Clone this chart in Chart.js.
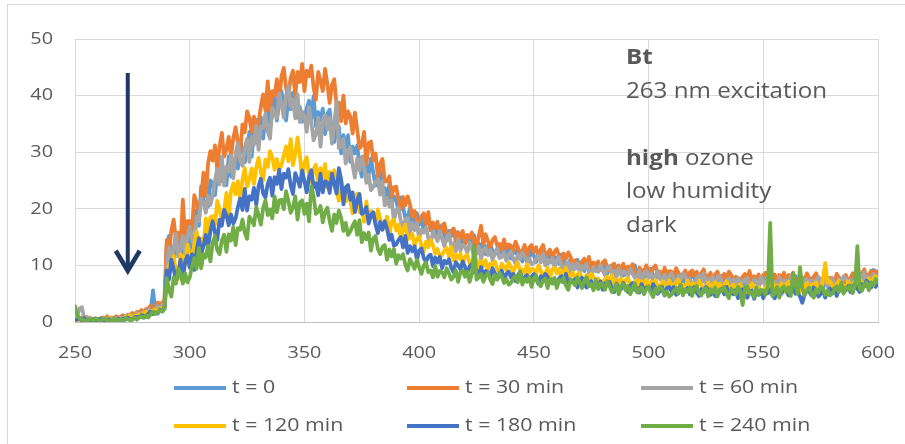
<!DOCTYPE html>
<html>
<head>
<meta charset="utf-8">
<script src="https://cdn.jsdelivr.net/npm/chart.js@4.4.1/dist/chart.umd.min.js"></script>
<style>
  html, body { margin: 0; padding: 0; background: #fff; }
  #wrap { width: 905px; height: 444px; }
</style>
</head>
<body>
<div id="wrap"><canvas id="spectra" width="905" height="444"></canvas></div>
<script>
// emission spectra, 250-600 nm in 1 nm steps
const waveStart = 250;
const waveEnd = 600;

const seriesNames = ["t = 0", "t = 30 min", "t = 60 min", "t = 120 min", "t = 180 min", "t = 240 min"];
const seriesColors = ["#5b9bd5", "#ed7d31", "#a5a5a5", "#ffc000", "#4472c4", "#70ad47"];

const t0 = [
  0.6,0.4,0.8,0.5,0.3,0.4,0.6,0.1,0.5,0.6,
  0.4,0.6,0.2,0.5,0.7,0.3,0.5,0.6,0.3,0.6,
  0.9,0.6,0.4,0.9,0.8,1.2,1.1,0.8,1.2,0.9,
  1.2,1.6,2.0,1.8,5.6,1.9,2.6,2.6,3.1,2.6,
  13.7,15.2,12.0,10.3,13.6,15.0,11.2,15.0,13.0,15.8,
  12.5,16.8,16.9,19.7,17.0,24.0,21.6,21.1,20.4,25.0,
  24.5,22.4,26.3,28.2,24.9,26.3,24.2,29.3,25.7,28.6,
  28.8,27.1,32.0,30.3,28.2,30.0,33.6,29.2,34.1,35.7,
  33.5,36.2,32.4,36.3,38.8,35.0,36.5,40.1,35.6,38.8,
  40.8,37.7,35.6,39.5,37.6,40.5,38.9,36.1,38.0,35.4,
  36.0,37.8,39.1,35.9,39.9,34.5,37.1,35.6,37.7,33.2,
  36.8,37.5,33.5,31.8,34.0,34.5,29.8,33.0,30.8,33.0,
  28.3,31.0,29.8,31.2,27.6,25.7,29.3,27.8,26.0,28.9,
  26.4,24.1,26.1,26.7,23.5,23.7,21.4,24.3,20.9,22.2,
  21.5,19.7,22.0,20.2,18.3,18.6,20.1,16.7,19.0,19.2,
  17.2,18.3,15.9,17.6,18.5,16.2,16.5,17.3,15.3,16.6,
  17.1,15.4,14.4,16.1,15.2,16.4,15.6,14.1,14.9,13.5,
  13.8,14.5,15.1,13.6,15.3,12.8,13.9,13.2,14.1,12.0,
  13.5,13.9,12.4,11.9,12.9,13.2,11.5,12.9,12.1,13.1,
  11.2,12.5,12.2,12.9,11.5,10.7,12.5,12.0,11.3,12.7,
  11.7,10.6,12.0,12.6,11.0,11.4,10.3,12.2,10.5,11.5,
  11.3,10.3,11.9,10.9,9.7,10.1,11.2,9.1,10.7,11.0,
  9.8,10.6,9.0,10.2,10.9,9.3,9.6,10.2,8.9,9.8,
  10.3,9.2,8.5,9.8,9.1,10.2,9.6,8.6,9.2,8.2,
  8.5,9.1,9.6,8.5,10.0,8.1,9.0,8.5,9.2,7.7,
  9.0,9.4,8.1,7.6,8.5,8.8,7.3,8.6,7.9,8.8,
  7.1,8.3,8.0,8.7,7.4,6.7,8.4,7.9,7.3,8.6,
  7.8,6.9,8.1,8.6,7.2,7.6,6.7,8.4,6.9,7.7,
  7.6,6.7,8.2,7.4,6.4,6.8,7.9,6.1,7.5,7.8,
  6.8,7.6,6.1,7.4,8.1,6.6,6.9,7.5,6.3,7.3,
  7.8,6.7,6.0,7.5,6.8,7.9,7.4,6.4,7.1,6.2,
  6.5,7.2,7.7,6.6,8.1,6.3,7.1,6.7,7.4,6.0,
  7.3,7.7,6.4,6.0,7.0,7.4,5.9,7.2,6.7,7.7,
  6.1,7.4,7.2,7.9,6.8,6.2,7.9,7.5,7.1,8.4,
  7.7,6.9,8.1,8.7,7.5,7.9,7.2,9.0,9.2,8.5,
  8.3
];

const t30 = [
  0.9,0.5,0.3,0.8,0.5,0.9,0.7,0.3,0.5,0.2,
  0.3,0.6,0.8,0.5,1.0,0.4,0.8,0.7,1.0,0.5,
  1.0,1.2,0.9,0.9,1.3,1.6,1.2,1.8,1.7,2.1,
  1.6,2.3,2.4,2.9,2.5,2.4,3.4,3.3,3.3,4.0,
  14.5,12.1,16.2,18.1,14.4,15.8,13.4,21.6,14.8,17.8,
  17.8,16.6,22.4,21.1,19.4,21.9,26.4,22.2,28.0,30.2,
  28.5,31.2,26.9,31.0,33.4,29.2,30.5,32.7,29.2,32.5,
  34.4,31.7,30.0,34.9,33.5,37.2,36.1,33.6,36.3,34.1,
  35.4,38.0,40.2,37.4,42.5,37.3,40.8,40.0,42.9,38.8,
  43.4,44.9,41.2,40.1,43.1,44.4,39.9,44.2,42.4,45.6,
  40.8,44.4,43.4,45.3,41.4,39.3,44.2,42.6,40.8,44.7,
  42.0,38.7,41.9,42.9,38.3,38.8,35.5,40.0,35.1,37.2,
  36.3,33.3,37.0,34.0,30.7,31.2,33.6,27.9,31.6,31.9,
  28.6,29.8,25.7,27.9,28.8,24.8,24.9,25.7,22.2,23.8,
  23.9,21.6,19.9,22.1,20.6,22.2,20.8,18.7,19.6,17.6,
  17.8,18.7,19.2,17.3,19.4,16.3,17.6,16.6,17.7,15.0,
  16.9,17.4,15.5,14.7,16.1,16.5,14.1,15.9,14.9,16.1,
  13.8,15.4,14.9,15.8,14.0,13.2,15.3,17.0,13.8,15.5,
  14.2,13.1,14.5,15.0,13.5,13.8,12.8,14.6,12.9,13.7,
  13.5,12.5,14.2,13.2,12.1,12.5,13.6,11.6,13.2,13.6,
  12.4,13.2,11.5,12.8,13.6,11.8,12.2,12.8,11.3,12.4,
  12.9,11.6,10.6,12.1,11.2,12.3,11.5,10.3,10.9,9.8,
  10.0,10.7,11.2,10.1,11.5,9.6,10.5,10.0,10.7,9.2,
  10.5,10.9,9.6,9.1,10.0,10.3,8.7,10.0,9.3,10.3,
  8.6,9.8,9.5,10.2,8.9,7.7,9.6,9.1,8.8,10.0,
  9.2,8.2,9.5,10.0,8.6,8.9,7.9,9.6,8.2,9.0,
  8.9,8.0,9.5,8.7,7.7,8.1,9.1,7.3,8.8,9.1,
  8.1,8.9,7.4,8.6,9.3,7.8,8.1,8.7,7.4,8.4,
  8.9,7.8,7.1,8.5,7.8,8.9,8.3,7.3,8.0,7.0,
  7.3,8.0,8.5,7.4,9.0,7.1,8.1,7.6,8.4,6.9,
  8.3,8.7,7.5,7.0,8.0,8.4,6.9,8.3,7.7,8.7,
  7.1,8.3,8.0,8.7,7.4,6.7,8.4,7.8,7.3,8.6,
  7.7,6.8,8.0,8.6,7.2,7.6,6.6,8.3,6.9,7.8,
  7.7,6.9,8.5,7.7,6.7,7.2,8.3,6.5,7.8,8.6,
  7.6,8.5,7.1,8.5,9.3,7.9,8.3,9.0,7.9,9.0,
  8.8
];

const t60 = [
  1.0,1.1,2.4,2.6,0.7,0.8,0.3,0.7,0.4,0.7,
  0.1,0.5,0.5,0.7,0.3,0.1,0.7,0.6,0.4,0.9,
  0.7,0.5,1.0,1.3,0.9,1.1,0.9,1.6,1.2,1.6,
  1.7,1.6,2.3,2.1,1.9,2.2,2.8,2.3,3.0,3.3,
  10.5,13.2,9.2,13.1,15.6,11.6,13.0,15.2,11.9,15.2,
  16.8,14.6,13.5,18.6,17.8,21.8,21.1,19.3,22.3,20.7,
  22.4,24.9,27.0,24.3,29.2,24.1,27.5,26.6,29.4,25.4,
  29.8,31.6,28.4,27.6,30.8,32.4,28.3,32.7,31.3,34.7,
  30.4,34.5,34.3,36.8,33.7,32.4,37.8,37.0,36.0,40.4,
  38.5,36.1,40.0,41.7,38.0,39.3,36.0,40.2,35.3,37.2,
  36.3,33.6,37.9,35.2,32.1,33.2,36.1,31.0,35.5,36.6,
  34.0,36.1,31.5,34.8,39.0,30.7,31.0,32.3,28.0,30.2,
  30.9,27.7,25.5,28.9,26.8,29.2,27.4,24.6,26.0,23.3,
  23.9,24.8,25.2,22.5,24.9,20.6,21.9,20.4,21.5,17.8,
  19.8,20.2,17.8,16.8,18.1,18.4,15.6,17.5,16.2,17.5,
  14.7,16.4,15.8,16.7,14.8,13.7,16.0,15.2,14.3,16.1,
  14.7,13.4,14.9,15.5,13.5,13.9,12.5,14.7,12.6,13.6,
  13.3,12.2,14.0,12.9,11.6,12.1,13.3,11.0,12.8,13.1,
  11.8,12.7,10.9,12.3,13.0,11.3,11.6,12.3,10.8,11.9,
  12.4,11.2,10.3,11.9,11.1,12.3,11.6,10.5,11.2,10.2,
  10.4,11.2,11.7,10.5,12.1,10.0,11.0,10.5,11.3,9.6,
  11.0,11.4,9.9,9.3,10.3,10.6,8.8,10.2,9.4,10.4,
  8.7,9.9,9.4,10.3,8.8,7.8,9.7,9.0,8.9,10.1,
  9.1,8.3,9.6,9.9,8.5,9.0,7.8,9.5,8.3,8.9,
  8.8,8.1,9.4,8.6,7.8,8.0,9.0,7.2,8.7,9.0,
  7.8,8.6,7.1,8.3,9.0,7.5,7.8,8.4,7.1,8.1,
  8.6,7.5,6.8,8.2,7.5,8.6,8.1,7.0,7.6,6.7,
  7.0,7.7,8.2,7.1,8.6,6.8,7.7,7.2,8.0,6.4,
  7.8,8.2,6.9,6.5,7.4,7.7,6.2,7.5,6.8,7.8,
  6.1,7.4,7.1,7.8,6.6,5.9,7.6,7.2,6.6,8.0,
  7.2,6.3,7.5,8.1,6.7,7.1,6.2,7.9,6.5,7.4,
  7.3,6.5,8.0,7.1,6.2,6.6,7.6,5.8,7.3,7.6,
  6.6,7.4,6.0,7.2,8.0,6.5,6.8,7.4,6.3,7.2,
  7.8,6.8,6.1,7.6,7.0,8.1,7.6,6.7,7.4,6.6,
  7.0,7.7,8.3,7.3,8.8,7.0,8.0,7.6,8.5,7.1,
  8.0
];

const t120 = [
  0.4,0.6,0.2,0.5,0.7,0.2,0.3,0.5,0.2,0.4,
  0.5,0.3,0.1,0.5,0.3,0.7,0.5,0.3,0.5,0.3,
  0.4,0.6,0.9,0.7,1.2,0.8,1.1,1.1,1.4,1.1,
  1.6,1.8,1.5,1.5,2.0,2.2,1.8,2.4,2.3,2.7,
  6.8,10.1,9.7,11.7,8.9,7.6,12.0,11.2,10.1,13.7,
  11.9,10.2,13.8,16.0,13.3,14.7,13.4,18.3,15.6,18.5,
  18.7,17.2,21.4,19.9,18.0,19.6,22.8,18.9,23.1,24.5,
  22.6,24.9,21.6,25.1,27.2,23.9,25.2,27.1,24.4,27.3,
  29.0,26.5,25.0,28.7,27.4,30.2,29.1,26.9,28.8,26.8,
  27.7,29.5,31.0,28.4,32.3,27.7,29.7,32.6,29.5,25.3,
  28.1,29.1,25.9,24.7,27.0,27.8,24.0,27.2,25.5,27.9,
  23.8,26.5,25.4,26.8,23.3,21.4,24.9,23.2,21.3,24.0,
  21.4,19.2,21.7,22.7,19.4,20.0,17.7,21.3,17.8,19.6,
  19.0,17.3,19.9,18.2,16.3,16.9,18.6,15.2,17.7,18.1,
  16.2,17.2,14.6,16.3,17.2,14.6,14.9,15.6,13.4,14.7,
  15.1,13.5,12.4,14.2,13.2,14.5,13.6,12.1,12.9,11.6,
  11.8,12.6,13.1,11.6,13.3,10.9,11.9,11.2,12.1,10.1,
  11.5,11.9,10.4,9.8,10.8,11.1,9.3,10.7,9.9,10.9,
  9.1,10.3,10.0,10.7,9.4,8.7,10.3,9.8,9.2,10.5,
  9.7,8.7,9.9,10.5,9.1,9.3,8.5,10.2,8.7,9.4,
  9.3,8.4,10.0,9.1,8.1,8.5,9.6,7.7,9.3,9.6,
  8.6,9.4,7.7,8.9,9.6,8.0,8.2,8.8,7.4,8.4,
  8.7,7.7,7.0,8.3,7.6,8.5,8.0,7.1,7.7,6.8,
  7.0,7.6,8.0,7.0,8.3,6.6,7.5,7.0,7.7,6.3,
  7.4,7.8,6.6,6.2,7.1,7.4,6.0,7.2,6.6,7.5,
  6.0,7.1,6.8,7.4,6.3,5.7,7.2,6.7,6.2,7.4,
  6.7,5.9,7.0,7.5,6.3,6.6,5.8,7.3,6.0,6.8,
  6.7,6.0,7.3,6.6,5.8,6.1,7.0,5.4,6.7,7.0,
  6.1,6.8,5.5,6.5,7.2,5.8,6.1,6.6,5.4,6.3,
  6.7,5.8,5.1,6.4,5.8,6.8,6.3,5.4,6.1,5.3,
  5.5,6.2,6.7,5.8,7.1,5.6,6.4,6.0,6.8,5.5,
  6.7,7.1,6.0,5.6,6.5,6.8,5.4,6.6,6.1,6.9,
  5.5,6.6,6.4,7.0,5.9,5.3,7.6,10.4,7.0,7.2,
  6.5,5.7,6.8,7.3,6.1,6.5,5.7,7.2,6.0,6.8,
  6.7,6.1,7.6,7.0,6.2,6.7,7.7,6.2,7.7,8.1,
  7.5
];

const t180 = [
  0.3,0.5,0.6,0.3,0.7,0.2,0.4,0.3,0.5,0.1,
  0.4,0.6,0.2,0.1,0.4,0.5,0.1,0.4,0.3,0.6,
  0.2,0.6,0.6,0.8,0.5,0.4,0.9,0.9,0.8,1.2,
  1.1,0.9,1.5,1.8,1.4,1.7,1.5,2.2,1.9,2.3,
  9.1,7.5,11.0,9.4,7.3,8.5,11.0,7.2,10.7,11.7,
  9.6,12.0,9.2,12.6,14.8,12.0,13.4,15.4,13.2,16.0,
  17.8,15.8,14.5,18.1,17.0,19.8,18.9,17.1,19.0,17.4,
  18.3,20.3,21.8,19.8,23.5,19.7,22.2,21.6,23.7,20.7,
  24.0,25.3,22.7,22.0,24.4,25.5,22.3,25.6,24.4,26.9,
  23.5,26.2,25.5,27.0,24.1,22.6,26.3,25.2,23.9,26.8,
  24.9,22.9,25.6,26.8,23.8,24.5,22.4,26.2,22.9,24.9,
  24.6,22.8,26.2,24.4,22.7,27.2,25.2,20.8,23.8,24.2,
  21.6,22.9,19.4,21.5,22.6,19.1,19.4,20.3,17.4,18.9,
  19.4,17.2,15.7,17.7,16.3,17.8,16.5,14.5,15.4,13.5,
  13.7,14.5,15.0,13.2,15.2,12.2,13.4,12.5,13.4,11.0,
  12.6,13.0,11.3,10.6,11.6,11.9,9.9,11.4,10.5,11.5,
  9.5,10.8,10.4,11.1,9.6,8.8,10.6,10.0,9.3,10.7,
  9.7,8.7,9.8,10.3,8.8,9.1,8.1,9.7,8.2,9.0,
  8.8,7.9,9.5,8.6,7.6,8.1,9.1,7.4,8.5,8.9,
  7.9,8.5,7.2,8.2,8.9,7.4,7.9,8.3,7.2,8.0,
  8.5,7.6,6.7,8.1,7.6,8.5,8.0,7.1,7.5,6.8,
  7.0,7.7,8.1,7.0,8.5,6.6,7.5,7.0,7.6,6.1,
  7.4,7.8,6.6,6.1,7.0,7.2,5.8,7.1,6.4,7.2,
  5.7,6.8,6.5,7.1,6.0,5.3,6.8,6.2,5.8,6.9,
  6.2,5.3,6.4,6.9,5.7,6.0,5.2,6.7,5.4,6.1,
  6.0,5.3,6.7,6.0,5.0,5.4,6.2,4.7,6.0,6.2,
  5.4,6.2,4.8,5.9,6.5,5.2,5.5,6.0,4.9,5.8,
  6.2,5.2,4.6,5.8,5.3,6.2,5.7,4.8,5.4,4.6,
  4.8,5.4,5.9,4.9,6.2,4.6,5.4,4.9,5.6,4.2,
  5.4,5.8,4.7,4.3,5.2,5.5,4.1,5.3,4.8,5.6,
  4.2,5.4,5.1,5.8,4.7,4.2,5.7,5.3,5.0,6.1,
  5.5,4.7,5.8,6.3,5.0,5.3,4.5,3.4,4.8,5.5,
  5.4,4.7,6.1,5.4,4.5,4.9,5.8,4.3,5.6,5.9,
  5.1,5.9,4.6,5.8,6.5,5.3,5.6,6.3,5.3,6.2,
  6.7,5.9,5.3,6.7,6.3,7.3,6.9,6.1,6.9,6.2,
  7.0
];

const t240 = [
  2.8,1.3,0.6,0.5,0.3,0.2,0.4,0.5,0.3,0.6,
  0.4,0.1,0.5,0.6,0.2,0.3,0.1,0.6,0.2,0.4,
  0.4,0.2,0.7,0.5,0.3,0.5,0.8,0.4,0.8,1.0,
  0.7,1.2,0.8,1.4,1.8,1.4,1.7,2.1,1.8,2.3,
  7.7,5.7,4.5,7.9,6.8,9.4,8.6,6.8,8.6,7.0,
  7.9,9.8,11.3,9.4,13.1,9.5,12.0,11.4,13.5,10.7,
  14.0,15.2,12.7,12.0,14.4,15.4,12.4,15.5,14.4,16.8,
  13.6,16.6,16.3,18.1,15.8,14.7,18.6,18.0,17.1,20.3,
  18.9,17.2,20.1,21.5,18.9,19.9,18.3,22.2,19.4,21.5,
  21.6,19.9,23.1,21.4,19.3,20.2,22.2,18.1,21.1,21.5,
  19.1,20.9,17.8,24.0,22.2,19.1,19.5,20.5,17.6,19.4,
  20.2,17.8,16.1,19.0,17.5,19.7,18.4,16.1,17.5,15.4,
  16.0,17.0,17.8,15.4,18.0,14.1,15.7,14.6,15.8,12.6,
  14.7,15.2,12.9,12.0,13.3,13.6,11.0,12.8,11.6,12.9,
  10.3,11.8,11.2,12.0,10.1,9.1,11.1,10.3,9.4,11.0,
  9.7,8.5,10.0,10.5,8.8,9.1,7.9,9.9,8.0,9.0,
  8.8,7.9,9.5,8.6,7.5,8.0,9.1,7.1,8.8,9.1,
  8.0,8.9,7.1,8.5,13.5,7.5,7.9,8.5,7.1,8.1,
  8.7,7.5,6.7,8.3,7.5,8.7,8.1,6.9,7.6,6.6,
  6.9,7.7,8.2,7.0,8.8,6.6,7.6,7.1,7.9,6.2,
  7.7,8.2,6.8,6.3,7.3,7.7,6.0,7.5,6.8,7.8,
  6.0,7.4,7.1,7.8,6.4,5.7,7.5,7.0,6.5,7.9,
  7.0,6.0,7.3,7.9,6.3,6.7,5.6,7.5,5.8,6.8,
  6.6,5.7,7.2,6.3,5.3,5.7,6.7,4.9,6.4,6.7,
  5.6,6.4,4.9,6.0,6.8,5.2,5.6,6.1,4.9,5.8,
  6.3,5.2,4.4,5.9,5.2,6.3,5.8,4.7,5.4,4.5,
  4.8,5.5,6.0,5.0,6.5,4.7,5.7,5.3,6.1,4.6,
  6.0,6.4,5.1,4.7,5.7,6.0,4.5,5.8,5.2,6.1,
  4.5,5.7,5.5,6.2,5.0,4.2,5.9,5.4,4.9,6.2,
  5.4,3.0,5.8,6.3,5.0,5.3,4.4,6.1,4.8,5.6,
  5.6,4.8,6.3,17.5,4.6,5.0,6.2,4.3,5.9,6.3,
  5.3,6.1,4.6,8.6,6.6,5.0,9.7,5.9,4.7,5.6,
  6.1,5.1,4.3,5.8,5.2,6.3,5.8,4.8,5.6,4.7,
  5.0,5.7,6.3,5.3,6.9,5.0,6.1,5.7,6.5,5.1,
  6.5,13.4,5.9,5.5,6.6,7.0,5.6,7.0,6.5,7.6,
  7.0
];

const xTicks = { min: 250, max: 600, step: 50 };
const yTicks = { min: 0, max: 50, step: 10 };

const noteLines = [
  [{ text: "Bt", bold: true }],
  [{ text: "263 nm excitation" }],
  [],
  [{ text: "high", bold: true }, { text: " ozone" }],
  [{ text: "low humidity" }],
  [{ text: "dark" }]
];

// arrow marking the decrease over time (nm, from value, to value)
const arrowMark = { nm: 273, from: 44, to: 8.7 };

const textColor = "#595959";
const fontFamily = '"Open Sans", sans-serif';

const allSeries = [t0, t30, t60, t120, t180, t240];

const datasets = allSeries.map((vals, i) => ({
  label: seriesNames[i],
  data: vals.map((v, k) => ({ x: waveStart + k, y: v })),
  borderColor: seriesColors[i],
  backgroundColor: seriesColors[i],
  order: allSeries.length - 1 - i
}));

// draw text a bit wider than the font's natural width
function wideText(ctx, text, x, y, sx, align) {
  ctx.save();
  ctx.translate(x, y);
  ctx.scale(sx, 1);
  ctx.textAlign = align || "left";
  ctx.fillText(text, 0, 0);
  ctx.restore();
}

const chartFrame = {
  id: "chartFrame",
  beforeDraw(chart) {
    const ctx = chart.ctx;
    ctx.save();
    ctx.fillStyle = "#fff";
    ctx.fillRect(0, 0, chart.width, chart.height);
    ctx.strokeStyle = "#d9d9d9";
    ctx.lineWidth = 1;
    ctx.strokeRect(7.5, 4.5, chart.width + 20, chart.height + 20);
    ctx.restore();
  }
};

const tickText = {
  id: "tickText",
  afterDraw(chart) {
    const { ctx, scales: { x, y } } = chart;
    ctx.save();
    ctx.fillStyle = textColor;
    ctx.font = "16.5px " + fontFamily;
    ctx.textBaseline = "middle";
    x.ticks.forEach(t => wideText(ctx, String(t.value), x.getPixelForValue(t.value), 353, 1.2, "center"));
    y.ticks.forEach(t => wideText(ctx, String(t.value), 53, y.getPixelForValue(t.value), 1.2, "right"));
    ctx.restore();
  }
};

const legendBox = {
  id: "legendBox",
  afterDraw(chart) {
    const ctx = chart.ctx;
    const cols = [174, 407, 641];
    const rows = [388, 426];
    ctx.save();
    ctx.font = "17.5px " + fontFamily;
    ctx.textBaseline = "middle";
    chart.data.datasets.forEach((ds, i) => {
      const cx = cols[i % 3];
      const cy = rows[Math.floor(i / 3)];
      ctx.strokeStyle = ds.borderColor;
      ctx.lineWidth = 4;
      ctx.lineCap = "butt";
      ctx.beginPath();
      ctx.moveTo(cx, cy);
      ctx.lineTo(cx + 52, cy);
      ctx.stroke();
      ctx.fillStyle = textColor;
      wideText(ctx, ds.label, cx + 58, cy, 1.22, "left");
    });
    ctx.restore();
  }
};

const noteText = {
  id: "noteText",
  afterDraw(chart) {
    const ctx = chart.ctx;
    const left = 626, top = 58, lineGap = 33.6, sx = 1.15;
    ctx.save();
    ctx.fillStyle = textColor;
    ctx.textBaseline = "middle";
    noteLines.forEach((parts, row) => {
      let x = left;
      parts.forEach(p => {
        ctx.font = (p.bold ? "bold " : "") + "21px " + fontFamily;
        wideText(ctx, p.text, x, top + row * lineGap, sx, "left");
        x += ctx.measureText(p.text).width * sx;
      });
    });
    ctx.restore();
  }
};

const doseArrow = {
  id: "doseArrow",
  afterDatasetsDraw(chart) {
    const { ctx, scales: { x, y } } = chart;
    const px = x.getPixelForValue(arrowMark.nm);
    const y1 = y.getPixelForValue(arrowMark.from);
    const y2 = y.getPixelForValue(arrowMark.to);
    ctx.save();
    ctx.strokeStyle = "#1f3864";
    ctx.lineWidth = 4;
    ctx.beginPath();
    ctx.moveTo(px, y1);
    ctx.lineTo(px, y2 - 2);
    ctx.stroke();
    ctx.lineWidth = 4.5;
    ctx.lineJoin = "miter";
    ctx.beginPath();
    ctx.moveTo(px - 12, y2 - 22);
    ctx.lineTo(px, y2 - 2);
    ctx.lineTo(px + 12, y2 - 22);
    ctx.stroke();
    ctx.restore();
  }
};

new Chart(document.getElementById("spectra"), {
  type: "line",
  data: { datasets },
  options: {
    responsive: false,
    animation: false,
    devicePixelRatio: 1,
    layout: { padding: { top: 39, right: 27, left: 0, bottom: 0 } },
    plugins: { legend: { display: false }, tooltip: { enabled: false } },
    elements: {
      point: { radius: 0 },
      line: { borderWidth: 3.8, tension: 0, borderJoinStyle: "round", borderCapStyle: "round" }
    },
    scales: {
      x: {
        type: "linear",
        min: xTicks.min, max: xTicks.max,
        ticks: { stepSize: xTicks.step, display: false },
        grid: { color: "#d9d9d9", drawTicks: false },
        border: { color: "#bfbfbf" },
        afterFit: s => { s.height = 122; }
      },
      y: {
        min: yTicks.min, max: yTicks.max,
        ticks: { stepSize: yTicks.step, display: false },
        grid: { color: "#d9d9d9", drawTicks: false },
        border: { display: false },
        afterFit: s => { s.width = 75; }
      }
    }
  },
  plugins: [chartFrame, tickText, legendBox, noteText, doseArrow]
});
</script>
</body>
</html>
